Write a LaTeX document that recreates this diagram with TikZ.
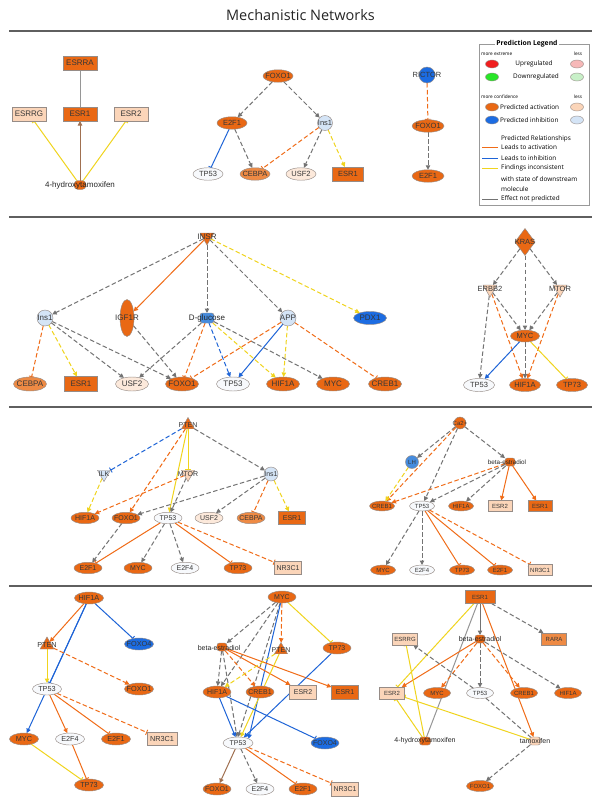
\documentclass[tikz,border=0pt]{standalone}
\usepackage{fontspec}
\setmainfont{Liberation Sans}
\newfontfamily\ttlfam{Open Sans}
\newfontfamily\lgfam{Open Sans}
\usetikzlibrary{shapes.geometric,arrows.meta}
\pgfdeclarelayer{bg}
\pgfsetlayers{bg,main}
\definecolor{dko}{RGB}{233,104,20}
\definecolor{mdo}{RGB}{238,138,68}
\definecolor{lto}{RGB}{251,213,185}
\definecolor{vlo}{RGB}{252,233,219}
\definecolor{dkb}{RGB}{28,108,226}
\definecolor{mdb}{RGB}{70,140,222}
\definecolor{ltb}{RGB}{212,228,246}
\definecolor{wht}{RGB}{247,249,252}
\definecolor{nbd}{RGB}{150,140,135}
\definecolor{txt}{RGB}{55,55,55}
\definecolor{cg}{RGB}{115,115,115}
\definecolor{co}{RGB}{240,108,24}
\definecolor{cb}{RGB}{30,100,215}
\definecolor{cy}{RGB}{240,212,30}
\definecolor{cbr}{RGB}{160,112,80}
\definecolor{sepc}{RGB}{95,95,95}
\definecolor{lred}{RGB}{240,30,30}
\definecolor{lpink}{RGB}{246,184,184}
\definecolor{lgrn}{RGB}{40,230,40}
\definecolor{llgrn}{RGB}{200,240,200}
\newcommand\nwF{\fontsize{7}{8}\selectfont}
\newcommand\nwC{\fontsize{7}{8}\selectfont}
\newcommand\nwEW{28pt}
\newcommand\nwEH{12pt}
\newcommand\nwRW{28pt}
\newcommand\nwRH{13pt}
\newcommand\nwCS{14pt}
\newcommand\nwKS{15pt}
\newcommand\setsz[8]{\def\nwF{\fontsize{#1}{#1}\selectfont}\def\nwC{\fontsize{#2}{#2}\selectfont}\def\nwEW{#3pt}\def\nwEH{#4pt}\def\nwRW{#5pt}\def\nwRH{#6pt}\def\nwCS{#7pt}\def\nwKS{#8pt}}
\newcommand\mk[4]{\node[#2,label={[lbl]center:#4}] (#1) at (#3) {};}
\newcommand\lgS{\lgfam\fontsize{4.7}{5}\selectfont}
\newcommand\lgM{\lgfam\fontsize{6.4}{7}\selectfont}
\tikzset{
 lbl/.style={font=\nwF, text=txt, inner sep=0pt},
 chl/.style={font=\nwC, text={black!85}, inner sep=0pt},
 nd/.style={draw=nbd, line width=0.45pt, inner sep=0pt, outer sep=0pt},
 tf/.style={nd, ellipse, minimum width=\nwEW, minimum height=\nwEH, fill=#1},
 nr/.style={nd, rectangle, minimum width=\nwRW, minimum height=\nwRH, fill=#1},
 oth/.style={nd, circle, minimum size=\nwCS, fill=#1},
 kin/.style={nd, regular polygon, regular polygon sides=3, shape border rotate=180, minimum size=\nwKS, fill=#1},
 pho/.style={nd, regular polygon, regular polygon sides=3, minimum size=\nwKS, fill=#1},
 chm/.style={nd, rectangle, rounded corners=2.5pt, minimum width=11pt, minimum height=8pt, fill=#1},
 lgel/.style={draw=nbd, line width=0.4pt, ellipse, minimum width=13pt, minimum height=8pt, inner sep=0pt},
 sepl/.style={draw=sepc, line width=1.5pt},
 ed/.style={line width=1pt},
 dsh/.style={dash pattern=on 4.5pt off 2.5pt},
 ta/.style={-{Triangle[length=4.5pt,width=4.4pt]}},
 tb/.style={-{Bar[width=5.5pt,line width=0.9pt]}},
 xga/.style={ed,color=cg,dsh,ta},
 xgs/.style={ed,color=cg!75},
 xgsa/.style={ed,color=cg,ta},
 xgd/.style={ed,color=cg,dsh},
 xoa/.style={ed,color=co,dsh,ta},
 xos/.style={ed,color=co,ta},
 xoi/.style={ed,color=co,dsh,tb},
 xosi/.style={ed,color=co,tb},
 xba/.style={ed,color=cb,ta},
 xbd/.style={ed,color=cb,dsh,ta},
 xbi/.style={ed,color=cb,tb},
 xbdi/.style={ed,color=cb,dsh,tb},
 xya/.style={ed,color=cy,dsh,ta},
 xys/.style={ed,color=cy,ta},
 xyi/.style={ed,color=cy,tb},
 xbr/.style={ed,color=cbr,ta},
}
\begin{document}
\begin{tikzpicture}[x=1pt,y=-1pt]
\begin{pgfonlayer}{bg}
\fill[white] (0,0) rectangle (601,806);
\end{pgfonlayer}
\useasboundingbox (0,0) rectangle (601,806);

\node[font=\ttlfam\fontsize{14.5}{16}\selectfont, text={black!85}] (title) at (300.5,15) {Mechanistic Networks};
\foreach \yy in {31,217,407,586} \draw[sepl] (9,\yy) -- (592,\yy);

% ---------- legend
\draw[draw=black!40, line width=0.5pt] (479,44) rectangle (589,205);
\node[fill=white, font=\lgfam\bfseries\fontsize{6.8}{7}\selectfont, inner sep=1pt] (lgt) at (527,44) {Prediction Legend};
\node[anchor=west, font=\lgS, inner sep=0pt] (lg1) at (481,54) {more extreme};
\node[font=\lgS, inner sep=0pt] (lg2) at (578,54) {less};
\node[lgel, fill=lred] (lg3) at (492,64) {};
\node[font=\lgM, inner sep=0pt] (lg4) at (534,64) {Upregulated};
\node[lgel, fill=lpink] (lg5) at (577,64) {};
\node[lgel, fill=lgrn] (lg6) at (492,77) {};
\node[font=\lgM, inner sep=0pt] (lg7) at (536,77) {Downregulated};
\node[lgel, fill=llgrn] (lg8) at (577,77) {};
\node[anchor=west, font=\lgS, inner sep=0pt] (lg9) at (481,97) {more confidence};
\node[font=\lgS, inner sep=0pt] (lg10) at (578,97) {less};
\node[lgel, fill=dko] (lg11) at (492,107) {};
\node[anchor=west, font=\lgM, inner sep=0pt] (lg12) at (500,107) {Predicted activation};
\node[lgel, fill=lto] (lg13) at (577,107) {};
\node[lgel, fill=dkb] (lg14) at (492,120) {};
\node[anchor=west, font=\lgM, inner sep=0pt] (lg15) at (500,120) {Predicted inhibition};
\node[lgel, fill=ltb] (lg16) at (577,120) {};
\node[font=\lgM, inner sep=0pt] (lg17) at (536,139) {Predicted Relationships};
\draw[co, line width=1pt] (482,147) -- (498,147);
\draw[cb, line width=1pt] (482,158) -- (498,158);
\draw[cy, line width=1pt] (482,168) -- (498,168);
\draw[cg, line width=1pt] (482,199) -- (498,199);
\node[anchor=west, font=\lgM, inner sep=0pt] (lg18) at (501,147) {Leads to activation};
\node[anchor=west, font=\lgM, inner sep=0pt] (lg19) at (501,158) {Leads to inhibition};
\node[anchor=west, font=\lgM, inner sep=0pt] (lg20) at (501,168) {Findings inconsistent};
\node[anchor=west, font=\lgM, inner sep=0pt] (lg21) at (501,179) {with state of downstream};
\node[anchor=west, font=\lgM, inner sep=0pt] (lg22) at (501,189) {molecule};
\node[anchor=west, font=\lgM, inner sep=0pt] (lg23) at (501,199) {Effect not predicted};

% ---------- section 1 A
\begin{scope}
\setsz{8}{8}{30}{12.5}{34}{14}{15}{16}
\mk{a1}{nr=dko}{80,63}{ESRRA}
\mk{a2}{nr=lto}{29,114}{ESRRG}
\mk{a3}{nr=dko}{80,114}{ESR1}
\mk{a4}{nr=lto}{131,114}{ESR2}
\node[chm=dko, minimum width=12pt, minimum height=9pt, rounded corners=4pt] (a5) at (80,185) {};
\node[chl] (a5t) at (80,185) {4-hydroxytamoxifen};
\begin{pgfonlayer}{bg}
\draw[xgs] (a1) -- (a3);
\draw[xbr] (a5) -- (a3);
\draw[xyi] (a5) -- (a2);
\draw[xyi] (a5) -- (a4);
\end{pgfonlayer}
\end{scope}

% ---------- section 1 B, C
\begin{scope}
\setsz{7.5}{7.5}{30}{12.5}{31}{14}{15}{16}
\mk{b1}{tf=dko}{278,76}{FOXO1}
\mk{b2}{tf=dko}{232,123}{E2F1}
\mk{b3}{oth=ltb}{325,123}{Ins1}
\mk{b4}{tf=wht}{208,174}{TP53}
\mk{b5}{tf=mdo}{255,174}{CEBPA}
\mk{b6}{tf=vlo}{301,174}{USF2}
\mk{b7}{nr=dko}{348,174}{ESR1}
\mk{c1}{oth=dkb, minimum size=16pt}{427,75}{RICTOR}
\mk{c2}{tf=dko, minimum width=32pt}{428,126}{FOXO1}
\mk{c3}{tf=dko, minimum width=32pt}{428,176}{E2F1}
\begin{pgfonlayer}{bg}
\draw[xga] (b1) -- (b2);
\draw[xga] (b1) -- (b3);
\draw[xbi] (b2) -- (b4);
\draw[xga] (b2) -- (b5);
\draw[xoi] (b3) -- (b5);
\draw[xga] (b3) -- (b6);
\draw[xya] (b3) -- (b7);
\draw[xoi] (c1) -- (c2);
\draw[xga] (c2) -- (c3);
\end{pgfonlayer}
\end{scope}

% ---------- section 2 INSR
\begin{scope}
\setsz{8}{8}{33}{14}{33}{15}{16}{16}
\mk{d1}{kin=dko}{207,237}{INSR}
\mk{d2}{oth=ltb}{45,318}{Ins1}
\mk{d3}{tf=dko, minimum width=14pt, minimum height=37pt}{127,318}{IGF1R}
\node[chm=mdb, minimum width=14pt, minimum height=10pt] (d4) at (207,318) {};
\node[chl] (d4t) at (207,318) {D-glucose};
\mk{d5}{oth=ltb}{288,318}{APP}
\mk{d6}{tf=dkb, minimum height=13pt}{370,318}{PDX1}
\mk{d7}{tf=mdo}{30,384}{CEBPA}
\mk{d8}{nr=dko}{81,384}{ESR1}
\mk{d9}{tf=vlo}{132,384}{USF2}
\mk{d10}{tf=dko}{182,384}{FOXO1}
\mk{d11}{tf=wht}{233,384}{TP53}
\mk{d12}{tf=dko}{283,384}{HIF1A}
\mk{d13}{tf=dko}{333,384}{MYC}
\mk{d14}{tf=dko}{385,384}{CREB1}
\begin{pgfonlayer}{bg}
\draw[xga] (d1) -- (d2);
\draw[xos] (d1) -- (d3);
\draw[xga] (d1) -- (d4);
\draw[xga] (d1) -- (d5);
\draw[xya] (d1) -- (d6);
\draw[xoi] (d2) -- (d7);
\draw[xya] (d2) -- (d8);
\draw[xga] (d2) -- (d9);
\draw[xga] (d2) -- (d10);
\draw[xga] (d3) -- (d10);
\draw[xga] (d4) -- (d9);
\draw[xoi] (d4) -- (d10);
\draw[xbd] (d4) -- (d11);
\draw[xya] (d4) -- (d12);
\draw[xga] (d4) -- (d13);
\draw[xoi] (d5) -- (d10);
\draw[xba] (d5) -- (d11);
\draw[xya] (d5) -- (d12);
\draw[xoi] (d5) -- (d14);
\end{pgfonlayer}
\end{scope}

% ---------- section 2 KRAS
\begin{scope}
\setsz{7.5}{7.5}{31}{13}{30}{14}{15}{16}
\mk{k1}{nd, diamond, fill=dko, minimum width=20pt, minimum height=27pt}{525,242}{KRAS}
\mk{k2}{kin=lto}{490,289}{ERBB2}
\mk{k3}{kin=lto}{560,289}{MTOR}
\mk{k4}{tf=dko, minimum width=29pt, minimum height=12pt}{525,336}{MYC}
\mk{k5}{tf=wht}{479,385}{TP53}
\mk{k6}{tf=dko}{525,385}{HIF1A}
\mk{k7}{tf=dko}{572,385}{TP73}
\begin{pgfonlayer}{bg}
\draw[xga] (k1) -- (k2);
\draw[xga] (k1) -- (k3);
\draw[xga] (k1) -- (k4);
\draw[xga] (k2) -- (k4);
\draw[xga] (k3) -- (k4);
\draw[xga] (k2) -- (k5);
\draw[xoa] (k2) -- (k6);
\draw[xoa] (k3) -- (k6);
\draw[xba] (k4) -- (k5);
\draw[xga] (k4) -- (k6);
\draw[xyi] (k4) -- (k7);
\end{pgfonlayer}
\end{scope}

% ---------- section 3 left
\begin{scope}
\setsz{7}{7}{28}{11.5}{27}{13}{14}{15}
\mk{p1}{pho=dko}{188,425}{PTEN}
\mk{p2}{kin=ltb}{104,474}{ILK}
\mk{p3}{kin=lto}{188,474}{MTOR}
\mk{p4}{oth=ltb}{271,474}{Ins1}
\mk{p5}{tf=dko}{85,518}{HIF1A}
\mk{p6}{tf=dko}{126,518}{FOXO1}
\mk{p7}{tf=wht}{168,518}{TP53}
\mk{p8}{tf=vlo}{209,518}{USF2}
\mk{p9}{tf=mdo}{251,518}{CEBPA}
\mk{p10}{nr=dko}{292,518}{ESR1}
\mk{p11}{tf=dko}{88,568}{E2F1}
\mk{p12}{tf=dko}{138,568}{MYC}
\mk{p13}{tf=wht}{185,568}{E2F4}
\mk{p14}{tf=dko}{238,568}{TP73}
\mk{p15}{nr=lto}{288,568}{NR3C1}
\begin{pgfonlayer}{bg}
\draw[xbdi] (p1) -- (p2);
\draw[xyi] (p1) -- (p3);
\draw[xga] (p1) -- (p4);
\draw[xoa] (p1) -- (p6);
\draw[xys] (p1) -- (p7);
\draw[xya] (p2) -- (p5);
\draw[xoa] (p3) -- (p5);
\draw[xga] (p3) -- (p7);
\draw[xga] (p4) -- (p6);
\draw[xga] (p4) -- (p8);
\draw[xoi] (p4) -- (p9);
\draw[xya] (p4) -- (p10);
\draw[xga] (p6) -- (p11);
\draw[xosi] (p7) -- (p11);
\draw[xga] (p7) -- (p12);
\draw[xga] (p7) -- (p13);
\draw[xosi] (p7) -- (p14);
\draw[xoi] (p7) -- (p15);
\end{pgfonlayer}
\end{scope}

% ---------- section 3 right
\begin{scope}
\setsz{6}{6.3}{25}{10}{24}{11}{12}{13}
\mk{q1}{oth=dko}{460,423}{Ca2+}
\mk{q2}{oth=mdb, minimum size=13pt}{412,462}{LH}
\node[chm=dko, minimum width=10pt, minimum height=8pt] (q3) at (510,462) {};
\node[chl] (q3t) at (507,462) {beta-estradiol};
\mk{q4}{tf=dko}{382,506}{CREB1}
\mk{q5}{tf=wht}{422,506}{TP53}
\mk{q6}{tf=dko}{461,506}{HIF1A}
\mk{q7}{nr=lto}{500,506}{ESR2}
\mk{q8}{nr=dko}{540,506}{ESR1}
\mk{q9}{tf=dko}{383,570}{MYC}
\mk{q10}{tf=wht}{422,570}{E2F4}
\mk{q11}{tf=dko}{462,570}{TP73}
\mk{q12}{tf=dko}{500,570}{E2F1}
\mk{q13}{nr=lto}{540,570}{NR3C1}
\begin{pgfonlayer}{bg}
\draw[xga] (q1) -- (q2);
\draw[xoa] (q1) -- (q4);
\draw[xga] (q1) -- (q5);
\draw[xga] (q1) -- (q3);
\draw[xya] (q2) -- (q4);
\draw[xoa] (q3) -- (q4);
\draw[xga] (q3) -- (q5);
\draw[xga] (q3) -- (q6);
\draw[xos] (q3) -- (q7);
\draw[xos] (q3) -- (q8);
\draw[xga] (q5) -- (q9);
\draw[xga] (q5) -- (q10);
\draw[xosi] (q5) -- (q11);
\draw[xosi] (q5) -- (q12);
\draw[xoi] (q5) -- (q13);
\end{pgfonlayer}
\end{scope}

% ---------- section 4 left
\begin{scope}
\setsz{7.3}{7.3}{29}{12}{30}{13}{14}{16}
\mk{r1}{tf=dko}{89,598}{HIF1A}
\mk{r2}{pho=dko}{47,645}{PTEN}
\mk{r3}{tf=dkb}{139,644}{FOXO4}
\mk{r4}{tf=wht}{47,689}{TP53}
\mk{r5}{tf=dko}{139,689}{FOXO1}
\mk{r6}{tf=dko}{24,739}{MYC}
\mk{r7}{tf=wht}{70,739}{E2F4}
\mk{r8}{tf=dko}{116,739}{E2F1}
\mk{r9}{nr=lto}{162,739}{NR3C1}
\mk{r10}{tf=dko}{89,785}{TP73}
\begin{pgfonlayer}{bg}
\draw[xos] (r1) -- (r2);
\draw[xba] (r1) -- (r6);
\draw[xbi] (r1) -- (r4);
\draw[xbi] (r1) -- (r3);
\draw[xys] (r2) -- (r4);
\draw[xoa] (r2) -- (r5);
\draw[xos] (r4) -- (r7);
\draw[xosi] (r4) -- (r8);
\draw[xoi] (r4) -- (r9);
\draw[xyi] (r6) -- (r10);
\draw[xosi] (r7) -- (r10);
\end{pgfonlayer}
\end{scope}

% ---------- section 4 middle
\begin{scope}
\setsz{7}{7}{28}{12}{27}{14}{14}{15}
\mk{s1}{tf=dko}{282,597}{MYC}
\node[chm=dko, minimum width=10pt, minimum height=8pt] (s2) at (222,647) {};
\node[chl] (s2t) at (219,648) {beta-estradiol};
\mk{s3}{pho=dko}{281,650}{PTEN}
\mk{s4}{tf=dko}{337,648}{TP73}
\mk{s5}{tf=dko}{217,692}{HIF1A}
\mk{s6}{tf=dko}{260,692}{CREB1}
\mk{s7}{nr=lto}{303,692}{ESR2}
\mk{s8}{nr=dko}{345,692}{ESR1}
\mk{s9}{tf=wht, minimum width=30pt}{238,743}{TP53}
\mk{s10}{tf=dkb}{325,743}{FOXO4}
\mk{s11}{tf=dko}{217,789}{FOXO1}
\mk{s12}{tf=wht}{260,789}{E2F4}
\mk{s13}{tf=dko}{303,789}{E2F1}
\mk{s14}{nr=lto}{345,789}{NR3C1}
\begin{pgfonlayer}{bg}
\draw[xga] (s1) -- (s2);
\draw[xga] (s1) -- (s5);
\draw[xga] (s1) -- (s9.north);
\draw[xoa] (s1) -- (s3);
\draw[xba] (s1) -- (s9.north east);
\draw[xyi] (s1) -- (s4);
\draw[xga] (s2) -- (s5);
\draw[xga] (s2) -- (s9);
\draw[xoa] (s2) -- (s6);
\draw[xos] (s2) -- (s7);
\draw[xos] (s2) -- (s8);
\draw[xya] (s3) -- (s5);
\draw[xys] (s3) -- (s9);
\draw[xba] (s4) -- (s9);
\draw[xba] (s5) -- (s9);
\draw[xbi] (s5) -- (s10);
\draw[xbr] (s9) -- (s11);
\draw[xga] (s9) -- (s12);
\draw[xosi] (s9) -- (s13);
\draw[xoi] (s9) -- (s14);
\end{pgfonlayer}
\end{scope}

% ---------- section 4 right
\begin{scope}
\setsz{6}{7}{27}{11}{25}{12}{13}{14}
\mk{t1}{nr=dko, minimum width=30pt, minimum height=13pt}{480,597}{ESR1}
\mk{t2}{nr=lto}{405,639}{ESRRG}
\node[chm=dko, minimum width=10pt, minimum height=8pt] (t3) at (480,639) {};
\node[chl] (t3t) at (480,639) {beta-estradiol};
\mk{t4}{nr=mdo}{554,639}{RARA}
\mk{t5}{nr=lto}{392,693}{ESR2}
\mk{t6}{tf=dko}{437,693}{MYC}
\mk{t7}{tf=wht}{480,693}{TP53}
\mk{t8}{tf=dko}{524,693}{CREB1}
\mk{t9}{tf=dko}{568,693}{HIF1A}
\node[chm=dko, minimum width=11pt, minimum height=8pt] (t10) at (425,741) {};
\node[chl] (t10t) at (425,741) {4-hydroxytamoxifen};
\node[chm=lto, minimum width=11pt, minimum height=8pt] (t11) at (535,741) {};
\node[chl] (t11t) at (535,741) {tamoxifen};
\mk{t12}{tf=dko}{480,786}{FOXO1}
\begin{pgfonlayer}{bg}
\draw[xgsa] (t1) -- (t3);
\draw[xgs] (t1) -- (t10);
\draw[xga] (t1) -- (t4);
\draw[xyi] (t1) -- (t5);
\draw[xos] (t1) -- (t11);
\draw[xos] (t3) -- (t5);
\draw[xoa] (t3) -- (t6);
\draw[xga] (t3) -- (t7);
\draw[xoa] (t3) -- (t8);
\draw[xga] (t3) -- (t9);
\draw[xga] (t7) -- (t2);
\draw[xgd] (t7) -- (t11);
\draw[xyi] (t10) -- (t2);
\draw[xyi] (t10) -- (t5);
\draw[xyi] (t11) -- (t5);
\draw[xga] (t11) -- (t12);
\end{pgfonlayer}
\end{scope}
\end{tikzpicture}
\end{document}
